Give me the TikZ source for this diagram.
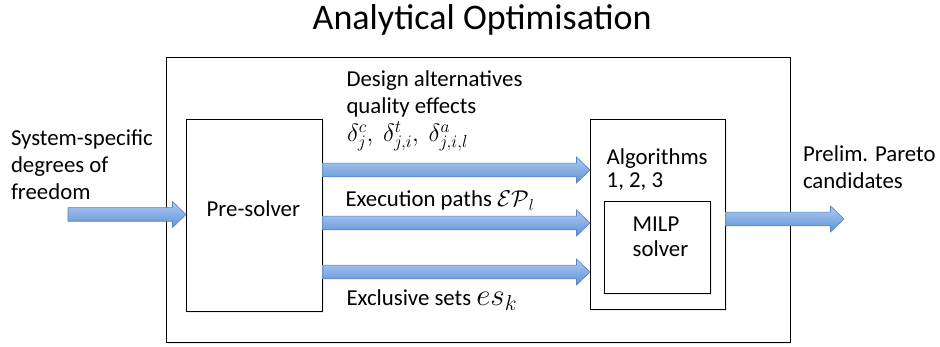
\RequirePackage{fix-cm}
\documentclass[tikz,border=0pt]{standalone}
\usepackage{fontspec}
\setmainfont{Carlito}
\usetikzlibrary{calc,shadows}
\definecolor{arrTop}{RGB}{172,202,242}
\definecolor{arrBot}{RGB}{98,146,214}
\definecolor{arrEdge}{RGB}{88,132,196}
\newcommand\fatarrow[2]{%
  \path[fatarr] let \p1=(#1), \p2=(#2) in
  (\x1,\y1+6.8pt) -- (\x2-13.5pt,\y1+6.8pt) -- (\x2-13.5pt,\y1+13pt) -- (\x2,\y1)
  -- (\x2-13.5pt,\y1-13pt) -- (\x2-13.5pt,\y1-6.8pt) -- (\x1,\y1-6.8pt) -- cycle;}
\begin{document}
\begin{tikzpicture}[x=1pt,y=-1pt,
  every node/.style={inner sep=0pt, outer sep=0pt},
  txt/.style={font=\fontsize{22.8}{27}\selectfont, anchor=base west},
  box/.style={draw=black, line width=1pt, fill=white,
    drop shadow={shadow xshift=1pt, shadow yshift=-1.5pt, opacity=0.15}},
  fatarr/.style={top color=arrTop, bottom color=arrBot, draw=arrEdge, line width=0.6pt},
]
\useasboundingbox (0,0) rectangle (940,347);

\node[font=\fontsize{36}{40}\selectfont, anchor=base] (title) at (482.2,29.3) {Analytical Optimisation};

\node[box, line width=1.3pt, minimum width=623.6pt, minimum height=285pt] (outer) at (478.5,199.9) {};
\node[box, minimum width=136.7pt, minimum height=192.7pt] (pre) at (254.35,215.65) {};
\node[box, minimum width=135.7pt, minimum height=190pt] (alg) at (657.85,214.3) {};
\node[box, minimum width=106.4pt, minimum height=92.3pt] (milp) at (657.5,247.85) {};

\node[txt, align=left] (sys) at (11,199.5) {System-specific\\degrees of\\freedom};
\node[txt] (pretxt) at (206.7,216.7) {Pre-solver};
\node[txt, align=left] (design) at (346.5,113.3) {Design alternatives\\[-0.4pt]quality effects};
\node[txt, font=\fontsize{25}{29}\selectfont] (delta) at (347,141.5) {$\delta^c_j,\: \delta^t_{j,i},\: \delta^a_{j,i,l}$};
\node[txt] (exec) at (345.5,206.7) {Execution paths $\mathcal{EP}_l$};
\node[txt] (excl) at (346.5,305.7) {Exclusive sets \fontsize{31}{34}\selectfont$es_k$};
\node[txt, align=left] (algtxt) at (606.7,188) {Algorithms\\[-4pt]1, 2, 3};
\node[txt, align=left] (milptxt) at (632.7,256.7) {MILP\\[-2pt]solver};
\node[txt, align=left] (prelim) at (803,188.5) {Prelim. Pareto\\[-0.4pt]candidates};

\coordinate (inS) at (68,214.5);
\coordinate (outE) at (844,219);
\fatarrow{inS}{pre.west |- inS}
\fatarrow{pre.east |- 0,170}{alg.west |- 0,170}
\fatarrow{pre.east |- 0,223}{alg.west |- 0,223}
\fatarrow{pre.east |- 0,272}{alg.west |- 0,272}
\fatarrow{alg.east |- outE}{outE}
\end{tikzpicture}
\end{document}
